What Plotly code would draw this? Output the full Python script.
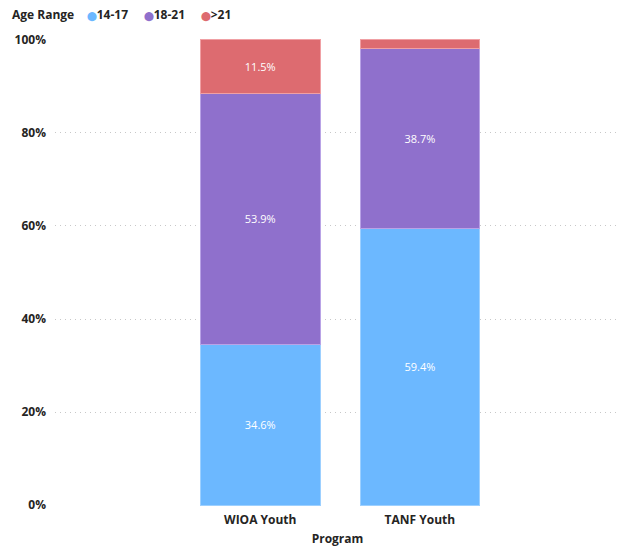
import plotly.graph_objects as go

programs = ["WIOA Youth", "TANF Youth"]
age_ranges = ["14-17", "18-21", ">21"]
share_14_17 = [34.6, 59.4]
share_18_21 = [53.9, 38.7]
share_over_21 = [11.5, 1.9]

colors = ["#6CB8FF", "#8F70CC", "#DD6B70"]
edges = ["#9DD0FF", "#B9A3E6", "#F0A0A4"]

fig = go.Figure()
for name, vals, col, edge in zip(age_ranges, [share_14_17, share_18_21, share_over_21], colors, edges):
    fig.add_trace(
        go.Bar(
            x=programs,
            y=vals,
            name=name,
            showlegend=False,
            marker={"color": col, "line": {"color": edge, "width": 1}},
            text=[f"{v:.1f}%" if v >= 5 else "" for v in vals],
            textposition="inside",
            insidetextanchor="middle",
            textfont={"color": "white", "size": 11, "family": "Open Sans"},
            hovertemplate="%{x}<br>" + name + ": %{y:.1f}%<extra></extra>",
        )
    )

# compact legend line with round markers, Power BI style
legend_html = "<b>Age Range</b>&nbsp;&nbsp;&nbsp;&nbsp;" + "&nbsp;&nbsp;&nbsp;&nbsp;&nbsp;".join(
    f"<span style='color:{c};font-family:DejaVu Sans;font-size:9px'>⬤</span><b>{n}</b>"
    for n, c in zip(age_ranges, colors)
)
fig.add_annotation(
    text=legend_html,
    xref="paper",
    yref="paper",
    x=-0.08,
    y=1.052,
    xanchor="left",
    yanchor="middle",
    showarrow=False,
    font={"size": 12, "color": "#252423"},
)

fig.update_layout(
    barmode="stack",
    bargap=0.25,
    width=625,
    height=554,
    margin={"l": 47, "r": 13, "t": 31, "b": 56, "autoexpand": False},
    plot_bgcolor="white",
    paper_bgcolor="white",
    font={"family": "Open Sans", "color": "#252423", "size": 12},
    showlegend=False,
)
fig.update_xaxes(
    range=[-1.286, 2.254],
    showgrid=False,
    showline=False,
    ticks="",
    ticklabelstandoff=5,
    tickfont={"size": 12, "family": "Open Sans", "color": "#252423"},
    title={"text": "<b>Program</b>", "font": {"size": 12, "color": "#252423"}, "standoff": 7},
    tickprefix="<b>",
    ticksuffix="</b>",
)
fig.update_yaxes(
    range=[-0.2, 100.2],
    tickvals=[0, 20, 40, 60, 80, 100],
    ticktext=["<b>0%</b>", "<b>20%</b>", "<b>40%</b>", "<b>60%</b>", "<b>80%</b>", "<b>100%</b>"],
    showgrid=True,
    gridcolor="#C8C8C8",
    griddash="1px,4px",
    gridwidth=1,
    zeroline=False,
    showline=False,
    ticks="",
    ticklabelstandoff=8,
    tickfont={"size": 12, "color": "#252423"},
)

fig.write_html("out.html")
